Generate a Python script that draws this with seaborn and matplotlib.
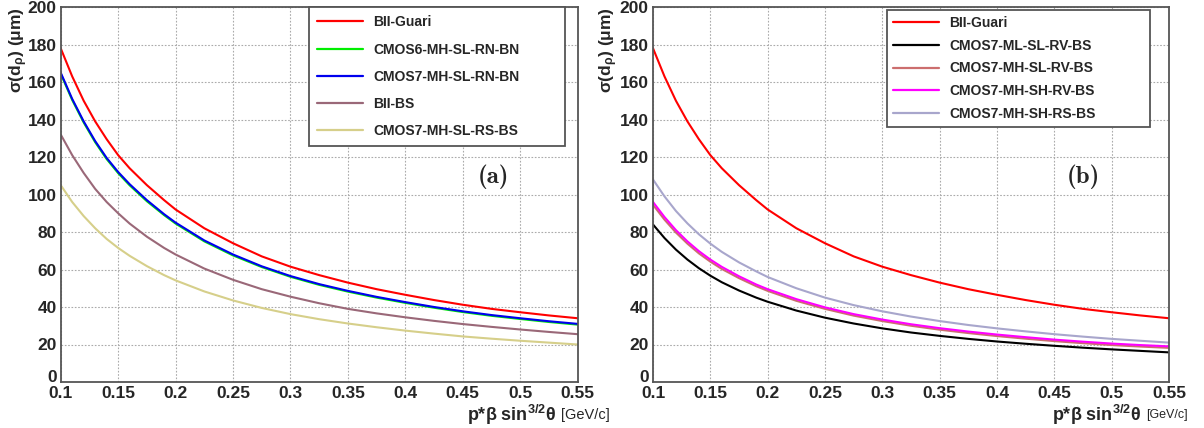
import numpy as np
import pandas as pd
import matplotlib
matplotlib.use("Agg")
import matplotlib.pyplot as plt
import matplotlib.transforms as mtransforms
import seaborn as sns
from matplotlib.ticker import MultipleLocator

sns.set_style("white")
plt.rcParams['font.family'] = ['Liberation Sans', 'DejaVu Sans']
plt.rcParams['mathtext.fontset'] = 'custom'
plt.rcParams['mathtext.rm'] = 'Liberation Sans'
plt.rcParams['mathtext.bf'] = 'Liberation Sans:bold'
plt.rcParams['mathtext.it'] = 'Liberation Sans'
plt.rcParams['mathtext.default'] = 'regular'

# ---------------- data ----------------
x_vals = [0.10, 0.11, 0.12, 0.13, 0.14, 0.15, 0.16, 0.175, 0.19, 0.20, 0.225, 0.25,
          0.275, 0.30, 0.325, 0.35, 0.375, 0.40, 0.425, 0.45, 0.475, 0.50, 0.525, 0.55]

bii_guari = [178, 163, 150, 139, 129.5, 121, 114, 105, 97, 92, 82, 74,
             67, 61.5, 57, 53, 49.5, 46.5, 43.7, 41.2, 39, 37.2, 35.5, 34]
cmos6_mh_sl_rn_bn = [164.4, 150.4, 138.4, 127.9, 118.9, 111.4, 104.9, 96.4, 89.0, 84.5, 75.0, 67.5,
                     61.3, 56.1, 51.8, 48.2, 45.0, 42.2, 39.6, 37.3, 35.3, 33.6, 32.0, 30.6]
cmos7_mh_sl_rn_bn = [165, 151, 139, 128.5, 119.5, 112, 105.5, 97, 89.5, 85, 75.5, 68,
                     61.7, 56.5, 52.2, 48.6, 45.4, 42.6, 40, 37.7, 35.7, 34, 32.4, 31]
bii_bs = [132, 121, 111.5, 103, 96, 90, 84.5, 77.5, 71.5, 68, 60.5, 54.5,
          49.5, 45.5, 42, 39, 36.6, 34.5, 32.6, 30.9, 29.4, 28, 26.7, 25.5]
cmos7_mh_sl_rs_bs = [105, 96, 88.5, 82, 76.3, 71.5, 67.3, 61.8, 57, 54.2, 48.3, 43.5,
                     39.5, 36.2, 33.5, 31.2, 29.2, 27.4, 25.8, 24.3, 23.1, 22, 21, 20]

cmos7_ml_sl_rv_bs = [84, 76.8, 70.6, 65.3, 60.7, 56.7, 53.2, 48.8, 45, 42.8, 38.1, 34.3,
                     31.2, 28.6, 26.4, 24.6, 23, 21.6, 20.4, 19.3, 18.3, 17.4, 16.6, 15.8]
cmos7_mh_sl_rv_bs = [94.5, 86.6, 79.7, 73.8, 68.6, 64.2, 60.3, 55.4, 51.1, 48.6, 43.3, 39,
                     35.4, 32.5, 30, 27.9, 26.1, 24.5, 23.1, 21.8, 20.7, 19.7, 18.9, 18.2]
cmos7_mh_sh_rv_bs = [96, 88, 81, 75, 69.8, 65.3, 61.4, 56.4, 52, 49.5, 44.2, 39.8,
                     36.2, 33.3, 30.8, 28.7, 26.9, 25.3, 23.9, 22.6, 21.5, 20.5, 19.7, 19]
cmos7_mh_sh_rs_bs = [108, 99, 91.2, 84.6, 78.8, 73.8, 69.4, 63.8, 59, 56, 50, 45,
                     41, 37.7, 34.9, 32.5, 30.4, 28.6, 27, 25.5, 24.2, 23, 22, 21]

x_tick_labels = ["0.1", "0.15", "0.2", "0.25", "0.3", "0.35", "0.4", "0.45", "0.5", "0.55"]
y_ticks = [0, 20, 40, 60, 80, 100, 120, 140, 160, 180, 200]

panel_a = [("BII-Guari", bii_guari, "#ff0000"),
           ("CMOS6-MH-SL-RN-BN", cmos6_mh_sl_rn_bn, "#00ee00"),
           ("CMOS7-MH-SL-RN-BN", cmos7_mh_sl_rn_bn, "#0000ee"),
           ("BII-BS", bii_bs, "#9a6878"),
           ("CMOS7-MH-SL-RS-BS", cmos7_mh_sl_rs_bs, "#d6cf8a")]
panel_b = [("BII-Guari", bii_guari, "#ff0000"),
           ("CMOS7-ML-SL-RV-BS", cmos7_ml_sl_rv_bs, "#000000"),
           ("CMOS7-MH-SL-RV-BS", cmos7_mh_sl_rv_bs, "#cc6e6e"),
           ("CMOS7-MH-SH-RV-BS", cmos7_mh_sh_rv_bs, "#ff00ff"),
           ("CMOS7-MH-SH-RS-BS", cmos7_mh_sh_rs_bs, "#a8a6cc")]

W, H = 1204, 428
fig = plt.figure(figsize=(W / 100, H / 100), dpi=100)
ax1 = fig.add_axes([60.7 / W, 46 / H, 517 / W, 375 / H])
ax2 = fig.add_axes([653 / W, 46 / H, 516 / W, 375 / H])


def draw(ax, series, leg_box, lspacing, bpad, tag, tag_xy, ylab_x):
    for name, vals, col in series:
        df = pd.DataFrame({"x": x_vals, "y": vals})
        sns.lineplot(data=df, x="x", y="y", ax=ax, color=col, lw=1.5, label=name)
    ax.set_xlim(0.1, 0.55)
    ax.set_ylim(0, 200)
    ax.xaxis.set_minor_locator(MultipleLocator(0.01))
    ax.yaxis.set_minor_locator(MultipleLocator(5))
    ax.set_xticks(np.arange(0.1, 0.5501, 0.05))
    ax.set_xticklabels(x_tick_labels)
    ax.set_yticks(y_ticks)
    # the "0" label is drawn separately, lifted a little above the "0.1" label
    ax.set_yticklabels([""] + [str(v) for v in y_ticks[1:]])
    ax.tick_params(which='major', direction='in', length=10, width=1, color='#555555',
                   labelsize=12.5, pad=3, top=False, right=False)
    ax.tick_params(which='minor', direction='in', length=5, width=1, color='#555555',
                   top=False, right=False)
    ax.tick_params(axis='y', which='major', length=15)
    ax.tick_params(axis='y', which='minor', length=8)
    for lab in ax.get_xticklabels() + ax.get_yticklabels():
        lab.set_fontweight('bold')
    zero_tr = ax.get_yaxis_transform() + mtransforms.ScaledTranslation(-4.2 / 100, 4 / 100,
                                                                         fig.dpi_scale_trans)
    ax.text(0, y_ticks[0], str(y_ticks[0]), transform=zero_tr, ha='right', va='center',
            fontsize=12.5, fontweight='bold')
    ax.grid(True, which='major', color='#aaaaaa', linestyle=(0, (1.5, 1.5)), lw=0.8)
    for s in ax.spines.values():
        s.set_color('#555555')
        s.set_linewidth(1.3)
    ax.set_xlabel("")
    ax.set_ylabel("")
    leg = ax.legend(loc='upper left', bbox_to_anchor=leg_box, bbox_transform=fig.transFigure,
                    mode='expand', frameon=True, fancybox=False, framealpha=1,
                    edgecolor='#555555', prop={'weight': 'bold', 'size': 10},
                    handlelength=3.3, handletextpad=0.75, labelspacing=lspacing,
                    borderpad=bpad, borderaxespad=0)
    leg.get_frame().set_linewidth(1.3)
    for lh in leg.get_lines():
        lh.set_linewidth(1.6)
    fig.text(tag_xy[0] / W, 1 - tag_xy[1] / H, tag, family='cmb10',
             fontsize=18, ha='center', va='center')
    fig.text(ylab_x / W, 1 - 7 / H, "σ(d$_{ρ}$) (μm)", rotation=90,
             fontsize=12.5, weight='bold', ha='center', va='top')


draw(ax1, panel_a, (309 / W, 1 - 144 / H, 256 / W, 137 / H), 0.95, 0.6, "(a)", (493, 177), 19)
draw(ax2, panel_b, (887 / W, 1 - 124 / H, 263 / W, 114 / H), 0.62, 0.45, "(b)", (1083, 177), 609)

# x axis titles, right aligned near the right end of each frame
renderer = fig.canvas.get_renderer()
for right_px, unit_size in [(610, 10.5), (1188, 9)]:
    t2 = fig.text(right_px / W, 1 - 415 / H, "[GeV/c]", fontsize=unit_size,
                  ha='right', va='center')
    bb = t2.get_window_extent(renderer=renderer)
    fig.text((bb.x0 - 5) / W, 1 - 415 / H, r"p*β sin$^{\mathbf{3/2}}$θ",
             fontsize=13, weight='bold', ha='right', va='center')

fig.savefig("out.png", dpi=100)
